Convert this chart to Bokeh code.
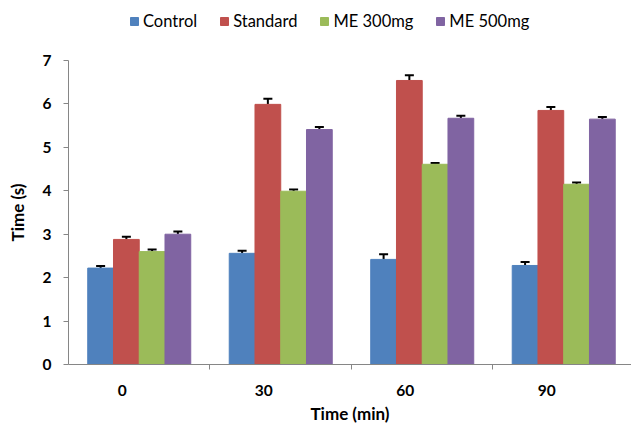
from bokeh.plotting import figure
from bokeh.layouts import column
from bokeh.models import (ColumnDataSource, Range1d, FixedTicker, Legend, LegendItem,
                          Whisker, TeeHead)
from bokeh.transform import dodge
from bokeh.embed import file_html
from bokeh.resources import INLINE

times = ["0", "30", "60", "90"]
series = ["Control", "Standard", "ME 300mg", "ME 500mg"]
control = [2.22, 2.56, 2.42, 2.28]
standard = [2.88, 5.99, 6.54, 5.85]
me300 = [2.60, 3.99, 4.61, 4.15]
me500 = [3.00, 5.41, 5.67, 5.65]
control_err = [0.05, 0.06, 0.12, 0.08]
standard_err = [0.06, 0.13, 0.12, 0.08]
me300_err = [0.05, 0.04, 0.03, 0.04]
me500_err = [0.06, 0.06, 0.06, 0.05]
colors = ["#4F81BD", "#C0504D", "#9BBB59", "#8064A2"]
y_ticks = [0, 1, 2, 3, 4, 5, 6, 7]

FONT = "Lato"
idx = list(range(len(times)))

# ---- legend strip above the chart ----
lg = figure(width=631, height=52, output_backend="svg", toolbar_location=None,
            x_axis_type=None, y_axis_type=None, x_range=Range1d(0, 1), y_range=Range1d(0, 1),
            min_border=0)
lg.outline_line_color = None
lg.xgrid.visible = False
lg.ygrid.visible = False
legend_items = []
for name, c in zip(series, colors):
    # swatch-only renderer, its single bar lies outside the visible range
    r = lg.vbar(x=[5], top=[1], width=0.1, fill_color=c, line_color=c)
    legend_items.append(LegendItem(label=name, renderers=[r]))
legend = Legend(items=legend_items, orientation="horizontal", location=(61, 21),
                glyph_width=10, glyph_height=10, label_standoff=4, spacing=22,
                padding=0, margin=0, border_line_color=None, background_fill_alpha=0,
                label_text_font=FONT, label_text_font_size="16.5px", label_text_color="black",
                label_height=14)
lg.add_layout(legend)

# ---- main chart ----
p = figure(width=631, height=374, output_backend="svg", toolbar_location=None,
           x_range=Range1d(-0.5, 3.479), y_range=Range1d(0, 7),
           min_border_left=68, min_border_right=0, min_border_top=8, min_border_bottom=62)
p.outline_line_color = None
p.xgrid.visible = False
p.ygrid.visible = False

bw = 0.182
offsets = [-1.5 * bw, -0.5 * bw, 0.5 * bw, 1.5 * bw]
vals = [control, standard, me300, me500]
errs = [control_err, standard_err, me300_err, me500_err]
for name, v, e, c, off in zip(series, vals, errs, colors, offsets):
    src = ColumnDataSource(dict(x=idx, top=v, upper=[a + b for a, b in zip(v, e)]))
    p.vbar(x=dodge("x", off, range=p.x_range), top="top", width=bw, source=src,
           fill_color=c, line_color=c, line_width=1)
    w = Whisker(source=src, base=dodge("x", off, range=p.x_range), upper="upper", lower="top",
                line_color="black", line_width=2,
                upper_head=TeeHead(size=9, line_color="black", line_width=2), lower_head=None)
    p.add_layout(w)

# x axis
p.xaxis.ticker = FixedTicker(ticks=[i - 0.12 for i in idx], minor_ticks=[0.5, 1.5, 2.5])
p.xaxis.major_label_overrides = {i - 0.12: t for i, t in zip(idx, times)}
p.xaxis.major_tick_line_color = None
p.xaxis.major_tick_out = 0
p.xaxis.major_tick_in = 0
p.xaxis.minor_tick_in = 0
p.xaxis.minor_tick_out = 5
p.xaxis.minor_tick_line_color = "#868686"
p.xaxis.axis_line_color = "#868686"
p.xaxis.axis_label = "Time (min)"
p.xaxis.major_label_standoff = 15
p.xaxis.axis_label_standoff = 4

# y axis
p.yaxis.ticker = FixedTicker(ticks=y_ticks)
p.yaxis.minor_tick_line_color = None
p.yaxis.major_tick_in = 0
p.yaxis.major_tick_out = 5
p.yaxis.major_tick_line_color = "#868686"
p.yaxis.axis_line_color = "#868686"
p.yaxis.axis_label = "Time (s)"
p.yaxis.major_label_standoff = 12
p.yaxis.axis_label_standoff = 12

for ax in (p.xaxis[0], p.yaxis[0]):
    ax.major_label_text_font = FONT
    ax.major_label_text_font_style = "bold"
    ax.major_label_text_font_size = "15.5px"
    ax.major_label_text_color = "black"
    ax.axis_label_text_font = FONT
    ax.axis_label_text_font_style = "bold"
    ax.axis_label_text_font_size = "17px"
    ax.axis_label_text_color = "black"

layout = column(lg, p, spacing=0)
open("out.html", "w").write(file_html(layout, INLINE))
